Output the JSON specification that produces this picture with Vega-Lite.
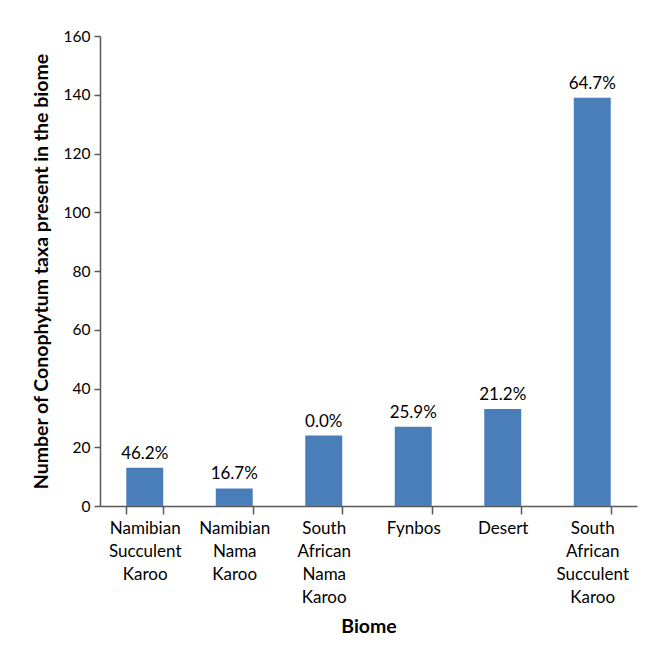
{
  "$schema": "https://vega.github.io/schema/vega-lite/v6.json",
  "autosize": "none",
  "width": 537,
  "height": 470,
  "padding": {"left": 100, "top": 36, "right": 12, "bottom": 140},
  "background": "white",
  "config": {
    "font": "Lato",
    "view": {"stroke": null},
    "axis": {"grid": false}
  },
  "data": {
    "values": [
      {"biome": "Namibian Succulent Karoo", "taxa": 13, "pct": "46.2%"},
      {"biome": "Namibian Nama Karoo", "taxa": 6, "pct": "16.7%"},
      {"biome": "South African Nama Karoo", "taxa": 24, "pct": "0.0%"},
      {"biome": "Fynbos", "taxa": 27, "pct": "25.9%"},
      {"biome": "Desert", "taxa": 33, "pct": "21.2%"},
      {"biome": "South African Succulent Karoo", "taxa": 139, "pct": "64.7%"}
    ]
  },
  "encoding": {
    "x": {
      "field": "biome",
      "type": "nominal",
      "sort": null,
      "scale": {"paddingInner": 0.587, "paddingOuter": 0.2935},
      "axis": {
        "title": "Biome",
        "titleFont": "Lato",
        "titleFontSize": 19.5,
        "titleFontWeight": "bold",
        "titleColor": "#000000",
        "titlePadding": 12,
        "labelAngle": 0,
        "labelFontSize": 17,
        "labelColor": "#000000",
        "labelLineHeight": 23,
        "labelPadding": 6,
        "labelExpr": "isValid(datum.value) ? split(datum.value, ' ') : ''",
        "tickBand": "extent",
        "tickSize": 8,
        "tickColor": "#595959",
        "domainColor": "#595959",
        "tickWidth": 1.5,
        "domainWidth": 1.5
      }
    },
    "y": {
      "field": "taxa",
      "type": "quantitative",
      "scale": {"domain": [0, 160]},
      "axis": {
        "title": "Number of Conophytum taxa present in the biome",
        "titleFont": "Lato",
        "titleFontSize": 19.5,
        "titleFontWeight": "bold",
        "titleColor": "#000000",
        "titlePadding": 12,
        "values": [0, 20, 40, 60, 80, 100, 120, 140, 160],
        "labelFontSize": 15.5,
        "labelColor": "#000000",
        "labelPadding": 4,
        "tickSize": 6,
        "tickColor": "#595959",
        "domainColor": "#595959",
        "tickWidth": 1.5,
        "domainWidth": 1.5
      }
    }
  },
  "layer": [
    {"mark": {"type": "bar", "color": "#4A7EBB"}},
    {
      "mark": {"type": "text", "baseline": "bottom", "dy": -5, "fontSize": 17, "color": "#000000"},
      "encoding": {"text": {"field": "pct"}}
    }
  ]
}
